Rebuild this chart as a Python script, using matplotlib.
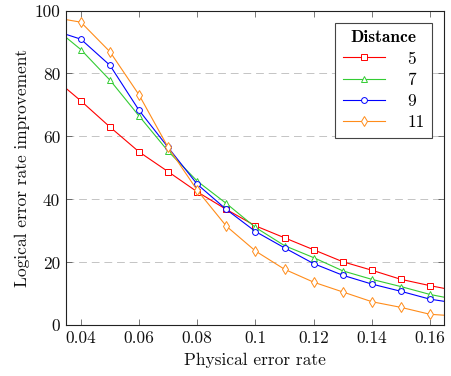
import matplotlib
matplotlib.use("Agg")
import matplotlib.pyplot as plt

plt.rcParams['font.family'] = 'cmr10'
plt.rcParams['mathtext.fontset'] = 'cm'
plt.rcParams['axes.unicode_minus'] = False
plt.rcParams['axes.formatter.use_mathtext'] = True

x = [0.03, 0.04, 0.05, 0.06, 0.07, 0.08, 0.09, 0.10, 0.11, 0.12, 0.13, 0.14, 0.15, 0.16, 0.17]
d5 = [79.1, 71.3, 63.0, 55.1, 48.8, 42.4, 36.8, 31.6, 27.8, 24.0, 20.2, 17.5, 14.6, 12.6, 10.8]
d7 = [95.2, 87.6, 77.9, 66.5, 55.3, 45.8, 38.7, 31.1, 25.3, 21.5, 17.3, 14.6, 12.3, 9.8, 8.0]
d9 = [93.9, 90.9, 82.6, 68.3, 56.5, 44.8, 36.8, 29.8, 24.6, 19.6, 15.9, 13.1, 10.8, 8.3, 6.9]
d11 = [97.9, 96.3, 86.9, 73.2, 56.5, 42.9, 31.5, 23.6, 17.8, 13.7, 10.6, 7.5, 5.7, 3.5, 2.9]
labels = ['5', '7', '9', '11']
series = [d5, d7, d9, d11]
colors = ['#ff0000', '#33cc33', '#0000ff', '#ff8c1a']
markers = ['s', '^', 'o', 'd']
xticks = [0.04, 0.06, 0.08, 0.10, 0.12, 0.14, 0.16]
xticklabels = ['0.04', '0.06', '0.08', '0.1', '0.12', '0.14', '0.16']
yticks = [0, 20, 40, 60, 80, 100]

FS = 12.5

fig = plt.figure(figsize=(4.52, 3.76), dpi=100)
ax = fig.add_axes([0.1454, 0.1348, 0.8376, 0.8372])

for s, lab, c, m in zip(series, labels, colors, markers):
    ax.plot(x, s, color=c, marker=m, markersize=4.2 if m != 'd' else 4.6,
            markerfacecolor='white', markeredgecolor=c, markeredgewidth=0.7,
            linewidth=0.8, label=lab)

ax.set_xlim(0.0348, 0.1649)
ax.set_ylim(0, 100)
ax.set_xticks(xticks)
ax.set_xticklabels(xticklabels)
ax.set_yticks(yticks)
ax.set_yticklabels([str(v) for v in yticks])
ax.tick_params(direction='in', top=True, right=True, length=4, width=0.5,
               labelsize=FS, colors='#444444', labelcolor='#111111', pad=4)
ax.yaxis.grid(True, linestyle=(0, (8, 5)), color='#c4c4c4', linewidth=0.7)
ax.set_axisbelow(True)
for sp in ax.spines.values():
    sp.set_linewidth(0.8)
    sp.set_color('#222222')

ax.set_xlabel('Physical error rate', fontsize=FS, labelpad=5, color='#111111')
ax.set_ylabel('Logical error rate improvement', fontsize=FS, labelpad=3, color='#111111')

leg = ax.legend(loc='upper right', fontsize=FS, frameon=True, fancybox=False,
                edgecolor='#444444', framealpha=1, borderpad=0.45,
                handlelength=2.4, handletextpad=1.3, labelspacing=0.33,
                borderaxespad=0.7, alignment='center')
leg.get_frame().set_linewidth(0.8)
leg.set_title('Distance', prop={'family': 'cmb10', 'size': FS})

fig.savefig('out.png', dpi=100)
